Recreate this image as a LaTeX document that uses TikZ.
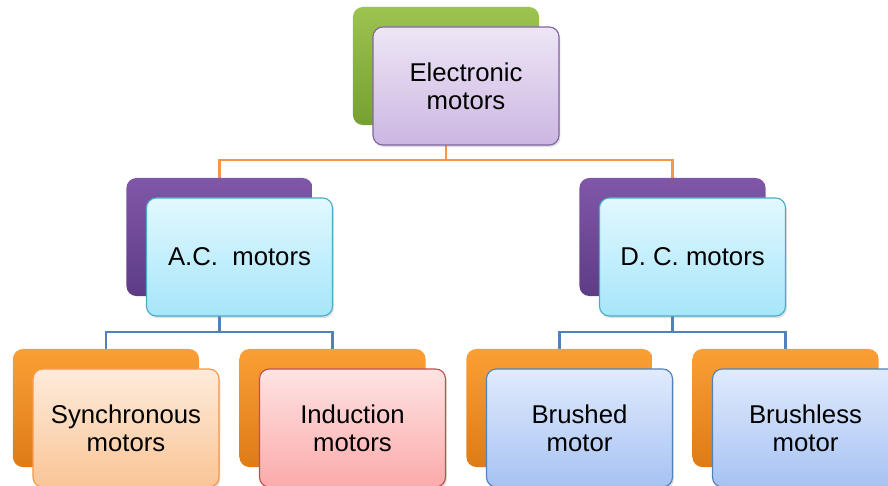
\documentclass[tikz,border=0pt]{standalone}
\usepackage{fontspec}
\setmainfont{Liberation Sans}
\usetikzlibrary{calc, positioning, shapes, shadows, backgrounds}

\definecolor{greentop}{HTML}{9DC34F}
\definecolor{greenbot}{HTML}{76A032}
\definecolor{lavtop}{HTML}{EEE6F6}
\definecolor{lavbot}{HTML}{CBB6E2}
\definecolor{lavline}{HTML}{8064A2}
\definecolor{purptop}{HTML}{8057A8}
\definecolor{purpbot}{HTML}{5E3C85}
\definecolor{cyantop}{HTML}{E2F8FE}
\definecolor{cyanbot}{HTML}{A6E6FA}
\definecolor{cyanline}{HTML}{4BACC6}
\definecolor{orgtop}{HTML}{FA9F35}
\definecolor{orgbot}{HTML}{DE7B16}
\definecolor{peachtop}{HTML}{FDEBDB}
\definecolor{peachbot}{HTML}{FAC596}
\definecolor{peachline}{HTML}{F79646}
\definecolor{pinktop}{HTML}{FEE3E3}
\definecolor{pinkbot}{HTML}{FCAAAA}
\definecolor{pinkline}{HTML}{C0504D}
\definecolor{bluetop}{HTML}{E1EBFC}
\definecolor{bluebot}{HTML}{A6C2F3}
\definecolor{blueline}{HTML}{4F81BD}

\begin{document}
\begin{tikzpicture}[x=0.025cm, y=-0.025cm,
	box/.style={rounded corners=7pt, minimum width=4.65cm, minimum height=2.95cm,
		inner sep=0pt, align=center, font=\fontsize{18.3}{20}\selectfont},
	backbox/.style={box, top color=#1top, bottom color=#1bot},
	frontbox/.style={box, draw=#1line, line width=.8pt, top color=#1top, bottom color=#1bot,
		drop shadow={opacity=.25, shadow xshift=1pt, shadow yshift=-1.5pt}},
	orgwire/.style={draw=peachline, line width=2pt},
	bluewire/.style={draw=blueline, line width=2pt}]
	\useasboundingbox (0,0) rectangle (888,486);

	% top
	\node[backbox=green] (elecback) at (446,66) {};
	\node[frontbox=lav] (elec) at ([shift={(20,20)}]elecback.center) {Electronic\\motors};

	% middle
	\node[backbox=purp] (acback) at (219.5,237) {};
	\node[frontbox=cyan] (ac) at ([shift={(20,20)}]acback.center) {A.C.\ \ motors};
	\node[backbox=purp] (dcback) at (672.5,237) {};
	\node[frontbox=cyan] (dc) at ([shift={(20,20)}]dcback.center) {D.\ C.\ motors};

	% bottom
\foreach \name/\x/\col/\txt in {sync/106/peach/{Synchronous\\motors}, induct/332.5/pink/{Induction\\motors},
	brushed/559.5/blue/{Brushed\\motor}, brushless/785.5/blue/{Brushless\\motor}}
	{\node[backbox=org] (\name back) at (\x,408) {};
	 \node[frontbox=\col] (\name) at ([shift={(20,20)}]\name back.center) {\txt};}

	\begin{scope}[on background layer]
		\draw[orgwire] (elecback.center) -- ++(0,94) -| (acback.center);
		\draw[orgwire] (elecback.center) -- ++(0,94) -| (dcback.center);
		\draw[bluewire] (acback.center) -- ++(0,95) -| (syncback.center);
		\draw[bluewire] (acback.center) -- ++(0,95) -| (inductback.center);
		\draw[bluewire] (dcback.center) -- ++(0,95) -| (brushedback.center);
		\draw[bluewire] (dcback.center) -- ++(0,95) -| (brushlessback.center);
	\end{scope}

\end{tikzpicture}
\end{document}
